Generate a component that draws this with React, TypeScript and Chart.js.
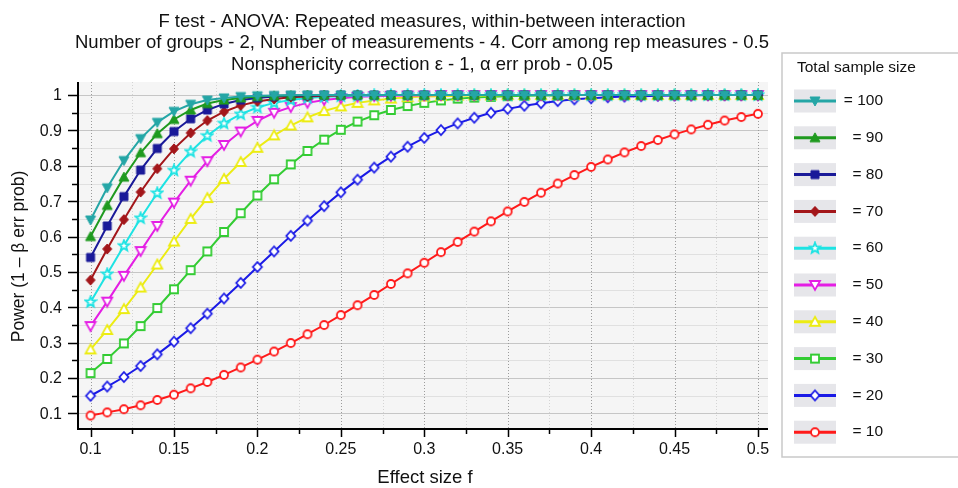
import React, { useEffect, useRef } from 'react';
import { Chart, registerables } from 'chart.js';

Chart.register(...registerables);

// ---------------- data ----------------
const effectSizes = [
  0.10, 0.11, 0.12, 0.13, 0.14, 0.15, 0.16, 0.17, 0.18, 0.19,
  0.20, 0.21, 0.22, 0.23, 0.24, 0.25, 0.26, 0.27, 0.28, 0.29,
  0.30, 0.31, 0.32, 0.33, 0.34, 0.35, 0.36, 0.37, 0.38, 0.39,
  0.40, 0.41, 0.42, 0.43, 0.44, 0.45, 0.46, 0.47, 0.48, 0.49, 0.50,
];

const power100 = [
  0.647, 0.738, 0.815, 0.877, 0.923, 0.954, 0.974, 0.986, 0.992, 0.996,
  0.998, 0.999, 1.0, 1.0, 1.0, 1.0, 1.0, 1.0, 1.0, 1.0,
  1.0, 1.0, 1.0, 1.0, 1.0, 1.0, 1.0, 1.0, 1.0, 1.0,
  1.0, 1.0, 1.0, 1.0, 1.0, 1.0, 1.0, 1.0, 1.0, 1.0, 1.0,
];
const power90 = [
  0.600, 0.688, 0.768, 0.837, 0.891, 0.931, 0.958, 0.976, 0.986, 0.992,
  0.996, 0.998, 0.999, 1.0, 1.0, 1.0, 1.0, 1.0, 1.0, 1.0,
  1.0, 1.0, 1.0, 1.0, 1.0, 1.0, 1.0, 1.0, 1.0, 1.0,
  1.0, 1.0, 1.0, 1.0, 1.0, 1.0, 1.0, 1.0, 1.0, 1.0, 1.0,
];
const power80 = [
  0.541, 0.630, 0.713, 0.788, 0.849, 0.897, 0.933, 0.958, 0.975, 0.986,
  0.992, 0.996, 0.998, 0.999, 1.0, 1.0, 1.0, 1.0, 1.0, 1.0,
  1.0, 1.0, 1.0, 1.0, 1.0, 1.0, 1.0, 1.0, 1.0, 1.0,
  1.0, 1.0, 1.0, 1.0, 1.0, 1.0, 1.0, 1.0, 1.0, 1.0, 1.0,
];
const power70 = [
  0.477, 0.565, 0.648, 0.726, 0.792, 0.848, 0.893, 0.928, 0.953, 0.971,
  0.982, 0.989, 0.994, 0.996, 0.998, 0.999, 1.0, 1.0, 1.0, 1.0,
  1.0, 1.0, 1.0, 1.0, 1.0, 1.0, 1.0, 1.0, 1.0, 1.0,
  1.0, 1.0, 1.0, 1.0, 1.0, 1.0, 1.0, 1.0, 1.0, 1.0, 1.0,
];
const power60 = [
  0.415, 0.494, 0.574, 0.652, 0.723, 0.787, 0.840, 0.885, 0.920, 0.946,
  0.965, 0.978, 0.986, 0.992, 0.995, 0.997, 0.998, 0.999, 1.0, 1.0,
  1.0, 1.0, 1.0, 1.0, 1.0, 1.0, 1.0, 1.0, 1.0, 1.0,
  1.0, 1.0, 1.0, 1.0, 1.0, 1.0, 1.0, 1.0, 1.0, 1.0, 1.0,
];
const power50 = [
  0.347, 0.416, 0.489, 0.559, 0.630, 0.696, 0.758, 0.813, 0.859, 0.897,
  0.927, 0.950, 0.966, 0.978, 0.986, 0.991, 0.995, 0.997, 0.998, 0.999,
  0.999, 1.0, 1.0, 1.0, 1.0, 1.0, 1.0, 1.0, 1.0, 1.0,
  1.0, 1.0, 1.0, 1.0, 1.0, 1.0, 1.0, 1.0, 1.0, 1.0, 1.0,
];
const power40 = [
  0.281, 0.336, 0.395, 0.456, 0.521, 0.586, 0.650, 0.709, 0.763, 0.811,
  0.851, 0.886, 0.914, 0.937, 0.955, 0.968, 0.978, 0.985, 0.990, 0.994,
  0.996, 0.997, 0.998, 0.999, 0.999, 1.0, 1.0, 1.0, 1.0, 1.0,
  1.0, 1.0, 1.0, 1.0, 1.0, 1.0, 1.0, 1.0, 1.0, 1.0, 1.0,
];
const power30 = [
  0.214, 0.254, 0.298, 0.347, 0.398, 0.451, 0.505, 0.558, 0.613, 0.666,
  0.716, 0.762, 0.804, 0.842, 0.874, 0.902, 0.925, 0.943, 0.958, 0.969,
  0.978, 0.985, 0.990, 0.993, 0.995, 0.997, 0.998, 0.999, 0.999, 1.0,
  1.0, 1.0, 1.0, 1.0, 1.0, 1.0, 1.0, 1.0, 1.0, 1.0, 1.0,
];
const power20 = [
  0.150, 0.176, 0.203, 0.234, 0.267, 0.303, 0.341, 0.382, 0.425, 0.469,
  0.514, 0.558, 0.602, 0.645, 0.686, 0.725, 0.761, 0.795, 0.826, 0.854,
  0.879, 0.901, 0.920, 0.936, 0.950, 0.961, 0.970, 0.977, 0.983, 0.988,
  0.991, 0.994, 0.996, 0.997, 0.998, 0.999, 0.999, 1.0, 1.0, 1.0, 1.0,
];
const power10 = [
  0.094, 0.103, 0.112, 0.123, 0.138, 0.153, 0.171, 0.189, 0.209, 0.230,
  0.252, 0.275, 0.299, 0.324, 0.350, 0.378, 0.406, 0.435, 0.466, 0.496,
  0.526, 0.556, 0.585, 0.614, 0.643, 0.671, 0.698, 0.724, 0.750, 0.774,
  0.797, 0.818, 0.838, 0.856, 0.873, 0.889, 0.903, 0.916, 0.928, 0.938, 0.947,
];

const sampleSizes = [100, 90, 80, 70, 60, 50, 40, 30, 20, 10];
const seriesValues = [power100, power90, power80, power70, power60, power50, power40, power30, power20, power10];

const xTickLabels = ['0.1', '0.15', '0.2', '0.25', '0.3', '0.35', '0.4', '0.45', '0.5'];
const xMinorTicks = [0.125, 0.175, 0.225, 0.275, 0.325, 0.375, 0.425, 0.475];
const yTickLabels = ['0.1', '0.2', '0.3', '0.4', '0.5', '0.6', '0.7', '0.8', '0.9', '1'];
const yMinorTicks = [0.15, 0.25, 0.35, 0.45, 0.55, 0.65, 0.75, 0.85, 0.95];

const titleLines = [
  'F test - ANOVA: Repeated measures, within-between interaction',
  'Number of groups - 2, Number of measurements - 4. Corr among rep measures - 0.5',
  'Nonsphericity correction \u03b5 - 1, \u03b1 err prob - 0.05',
];
const xAxisTitle = 'Effect size f';
const yAxisTitle = 'Power (1 \u2013 \u03b2 err prob)';
const legendTitle = 'Total sample size';

// ---------------- styles ----------------
const FONT = '"Liberation Sans", Arial, Helvetica, sans-serif';

const seriesStyles = [
  { color: '#25a6a6', marker: 'triDown', filled: true },
  { color: '#1f9a1f', marker: 'triUp', filled: true },
  { color: '#1a1a99', marker: 'square', filled: true },
  { color: '#a3161a', marker: 'diamond', filled: true },
  { color: '#1de3e3', marker: 'star', filled: false },
  { color: '#e41ee4', marker: 'triDown', filled: false },
  { color: '#ecec12', marker: 'triUp', filled: false },
  { color: '#33cc33', marker: 'square', filled: false },
  { color: '#1a1ae6', marker: 'diamond', filled: false },
  { color: '#ff1a1a', marker: 'circle', filled: false },
];

function makeMarker(kind: string, color: string, filled: boolean): HTMLCanvasElement {
  const size = 14;
  const c = document.createElement('canvas');
  c.width = size;
  c.height = size;
  const g = c.getContext('2d') as CanvasRenderingContext2D;
  const m = size / 2;
  g.lineWidth = filled ? 1 : 1.8;
  g.strokeStyle = color;
  g.fillStyle = filled ? color : '#ffffff';
  g.beginPath();
  switch (kind) {
    case 'triDown':
      g.moveTo(m - 5, m - 4);
      g.lineTo(m + 5, m - 4);
      g.lineTo(m, m + 5);
      g.closePath();
      break;
    case 'triUp':
      g.moveTo(m, m - 5);
      g.lineTo(m + 5, m + 4);
      g.lineTo(m - 5, m + 4);
      g.closePath();
      break;
    case 'square':
      g.rect(m - 4, m - 4, 8, 8);
      break;
    case 'diamond':
      g.moveTo(m, m - 5);
      g.lineTo(m + 4.5, m);
      g.lineTo(m, m + 5);
      g.lineTo(m - 4.5, m);
      g.closePath();
      break;
    case 'star': {
      for (let i = 0; i < 10; i++) {
        const r = i % 2 === 0 ? 5.5 : 2.4;
        const ang = -Math.PI / 2 + (i * Math.PI) / 5;
        const px = m + r * Math.cos(ang);
        const py = m + r * Math.sin(ang);
        if (i === 0) g.moveTo(px, py);
        else g.lineTo(px, py);
      }
      g.closePath();
      break;
    }
    default:
      g.arc(m, m, 4, 0, Math.PI * 2);
  }
  g.fill();
  g.stroke();
  return c;
}

function drawDecor(chart: any, markers: HTMLCanvasElement[]) {
  const { ctx, chartArea: a, scales } = chart;
  const x = scales.x;
  const y = scales.y;
  ctx.save();

  // axes lines
  ctx.strokeStyle = '#000';
  ctx.lineWidth = 2;
  ctx.beginPath();
  ctx.moveTo(a.left, a.top);
  ctx.lineTo(a.left, a.bottom + 1);
  ctx.moveTo(a.left - 1, a.bottom);
  ctx.lineTo(a.right, a.bottom);
  ctx.stroke();

  // ticks
  ctx.lineWidth = 1.5;
  ctx.beginPath();
  xTickLabels.forEach((t) => {
    const px = Math.round(x.getPixelForValue(parseFloat(t))) + 0.5;
    ctx.moveTo(px, a.bottom);
    ctx.lineTo(px, a.bottom + 8);
  });
  xMinorTicks.forEach((v) => {
    const px = Math.round(x.getPixelForValue(v)) + 0.5;
    ctx.moveTo(px, a.bottom);
    ctx.lineTo(px, a.bottom + 5);
  });
  yTickLabels.forEach((t) => {
    const py = Math.round(y.getPixelForValue(parseFloat(t))) + 0.5;
    ctx.moveTo(a.left, py);
    ctx.lineTo(a.left - 10, py);
  });
  yMinorTicks.forEach((v) => {
    const py = Math.round(y.getPixelForValue(v)) + 0.5;
    ctx.moveTo(a.left, py);
    ctx.lineTo(a.left - 6, py);
  });
  ctx.stroke();

  // tick labels
  ctx.fillStyle = '#111';
  ctx.font = `16px ${FONT}`;
  ctx.textAlign = 'center';
  ctx.textBaseline = 'middle';
  xTickLabels.forEach((t) => {
    ctx.fillText(t, x.getPixelForValue(parseFloat(t)), a.bottom + 21);
  });
  ctx.textAlign = 'right';
  yTickLabels.forEach((t) => {
    ctx.fillText(t, a.left - 16, y.getPixelForValue(parseFloat(t)) + 1);
  });

  // axis titles
  ctx.font = `18.5px ${FONT}`;
  ctx.textAlign = 'center';
  ctx.fillText(xAxisTitle, (a.left + a.right) / 2 + 2, 478);
  ctx.font = `17.5px ${FONT}`;
  ctx.save();
  ctx.translate(19, (a.top + a.bottom) / 2 + 1);
  ctx.rotate(-Math.PI / 2);
  ctx.fillText(yAxisTitle, 0, 0);
  ctx.restore();

  // chart title
  ctx.textBaseline = 'alphabetic';
  ctx.font = `18.5px ${FONT}`;
  const titleX = (a.left + a.right) / 2 - 1;
  const baselines = [26.5, 48, 70];
  titleLines.forEach((line, i) => ctx.fillText(line, titleX, baselines[i]));

  // legend
  const lx = 782;
  const ly = 53;
  ctx.strokeStyle = '#c9c9c9';
  ctx.lineWidth = 1.5;
  ctx.strokeRect(lx, ly, 200, 404);
  ctx.fillStyle = '#111';
  ctx.textAlign = 'left';
  ctx.font = `15.5px ${FONT}`;
  ctx.fillText(legendTitle, 797, 72);
  ctx.font = `15.5px ${FONT}`;
  sampleSizes.forEach((n, i) => {
    const cy = 101 + i * 36.8;
    const st = seriesStyles[i];
    ctx.fillStyle = 'rgba(230,230,234,1)';
    ctx.fillRect(794, cy - 11.5, 42, 23);
    ctx.strokeStyle = st.color;
    ctx.lineWidth = 3;
    ctx.beginPath();
    ctx.moveTo(794, cy);
    ctx.lineTo(836, cy);
    ctx.stroke();
    const mk = markers[i];
    ctx.drawImage(mk, 815 - mk.width / 2, cy - mk.height / 2);
    ctx.fillStyle = '#111';
    ctx.textAlign = 'right';
    ctx.textBaseline = 'middle';
    ctx.fillText(`= ${n}`, 883, cy);
  });

  ctx.restore();
}

function drawBackground(chart: any) {
  const { ctx, chartArea: a, scales } = chart;
  const x = scales.x;
  const y = scales.y;
  ctx.save();
  ctx.fillStyle = '#f5f5f5';
  ctx.fillRect(a.left, a.top, a.right - a.left, a.bottom - a.top);

  // horizontal grid
  ctx.lineWidth = 1;
  ctx.strokeStyle = '#e0e0e0';
  ctx.beginPath();
  yMinorTicks.forEach((v) => {
    const py = Math.round(y.getPixelForValue(v)) + 0.5;
    ctx.moveTo(a.left, py);
    ctx.lineTo(a.right, py);
  });
  ctx.stroke();
  ctx.strokeStyle = '#c6c6c6';
  ctx.lineWidth = 1.2;
  ctx.beginPath();
  yTickLabels.forEach((t) => {
    const py = Math.round(y.getPixelForValue(parseFloat(t))) + 0.5;
    ctx.moveTo(a.left, py);
    ctx.lineTo(a.right, py);
  });
  ctx.stroke();

  // vertical dotted grid
  ctx.lineWidth = 1;
  ctx.setLineDash([1, 2]);
  ctx.strokeStyle = '#d4d4d4';
  ctx.beginPath();
  xMinorTicks.forEach((v) => {
    const px = Math.round(x.getPixelForValue(v)) + 0.5;
    ctx.moveTo(px, a.top);
    ctx.lineTo(px, a.bottom);
  });
  ctx.stroke();
  ctx.strokeStyle = '#9c9c9c';
  ctx.beginPath();
  xTickLabels.forEach((t) => {
    const px = Math.round(x.getPixelForValue(parseFloat(t))) + 0.5;
    ctx.moveTo(px, a.top);
    ctx.lineTo(px, a.bottom);
  });
  ctx.stroke();
  ctx.restore();
}

export default function App() {
  const canvasRef = useRef<HTMLCanvasElement | null>(null);

  useEffect(() => {
    document.body.style.margin = '0';
    const canvas = canvasRef.current;
    if (!canvas) return;
    const markers = seriesStyles.map((s) => makeMarker(s.marker, s.color, s.filled));

    const datasets = sampleSizes.map((n, i) => ({
      label: `= ${n}`,
      data: effectSizes.map((f, j) => ({ x: f, y: seriesValues[i][j] })),
      borderColor: seriesStyles[i].color,
      backgroundColor: seriesStyles[i].color,
      borderWidth: 2,
      pointStyle: markers[i],
      pointRadius: 5,
      tension: 0,
      fill: false,
    }));

    const decor = {
      id: 'decor',
      beforeDatasetsDraw(chart: any) {
        drawBackground(chart);
      },
      afterDraw(chart: any) {
        drawDecor(chart, markers);
      },
    };

    const chart = new Chart(canvas, {
      type: 'line',
      data: { datasets },
      options: {
        animation: false,
        responsive: false,
        devicePixelRatio: 1,
        layout: { padding: { left: 78, top: 82, right: 190, bottom: 59 } },
        plugins: {
          legend: { display: false },
          title: { display: false },
          tooltip: { enabled: false },
        },
        scales: {
          x: { type: 'linear', display: false, min: 0.0925, max: 0.506 },
          y: { type: 'linear', display: false, min: 0.056, max: 1.037 },
        },
      },
      plugins: [decor],
    } as any);

    return () => chart.destroy();
  }, []);

  return (
    <div style={{ position: 'fixed', left: 0, top: 0, width: 958, height: 488, background: '#fff' }}>
      <canvas ref={canvasRef} width={958} height={488} style={{ display: 'block' }} />
    </div>
  );
}
